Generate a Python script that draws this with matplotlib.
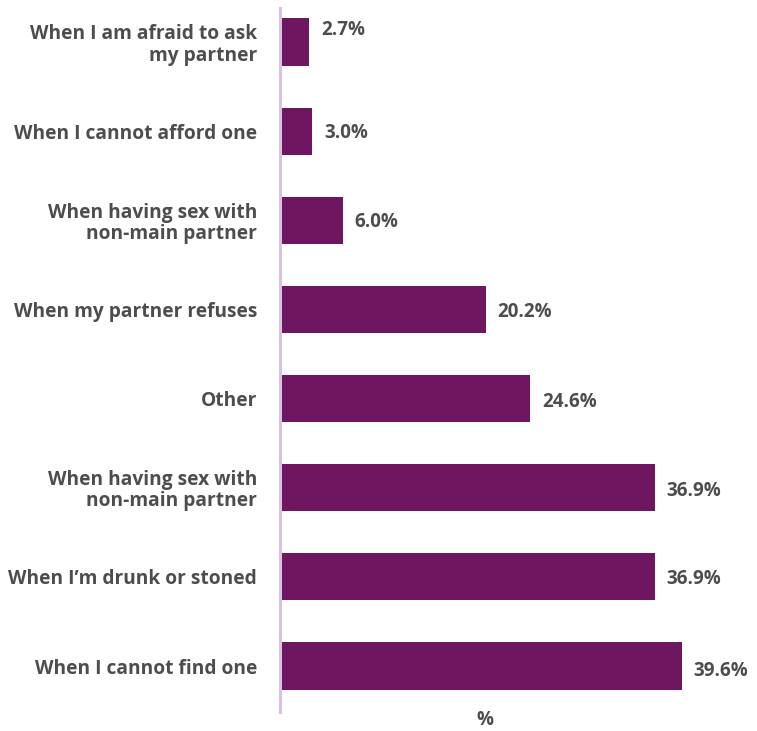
import matplotlib
matplotlib.use("Agg")
import matplotlib.pyplot as plt

categories = [
    "When I am afraid to ask\nmy partner",
    "When I cannot afford one",
    "When having sex with\nnon-main partner",
    "When my partner refuses",
    "Other",
    "When having sex with\nnon-main partner",
    "When I\u2019m drunk or stoned",
    "When I cannot find one",
]
values = [2.7, 3.0, 6.0, 20.2, 24.6, 36.9, 36.9, 39.6]
value_labels = ["2.7%", "3.0%", "6.0%", "20.2%", "24.6%", "36.9%", "36.9%", "39.6%"]

BAR = "#6f1660"
TXT = "#4d4d4d"
FONT = ["Open Sans", "DejaVu Sans"]

W, H = 757, 731
fig = plt.figure(figsize=(W / 100, H / 100), dpi=100)
ax_left, ax_right = 280, 690
ax_top, ax_bottom = 0, 712
ax = fig.add_axes([ax_left / W, 1 - ax_bottom / H, (ax_right - ax_left) / W, (ax_bottom - ax_top) / H])

pos = list(range(len(values)))
ax.barh(pos, values, height=0.53, color=BAR, left=0.2)
ax.set_xlim(0, 40.6)
ax.set_ylim(7.516, -0.471)

ax.set_yticks(pos)
ax.set_yticklabels(categories, fontsize=13.8, fontweight="bold", color=TXT,
                   family=FONT, linespacing=1.08)
ax.tick_params(axis="y", length=0, pad=16.5)
ax.set_xticks([])

for s in ["top", "right", "bottom"]:
    ax.spines[s].set_visible(False)
ax.spines["left"].set_color("#d6c3e3")
ax.spines["left"].set_linewidth(2.2)
ax.spines["left"].set_bounds(-0.38, 7.516)

offsets = [-0.13, 0.02, 0.02, 0.03, 0.04, 0.04, 0.02, 0.06]
for p, v, lab, o in zip(pos, values, value_labels, offsets):
    ax.text(v + 0.2 + 1.15, p + o, lab, va="center", ha="left", fontsize=13.5,
            fontweight="bold", color=TXT, family=FONT)

fig.text(485 / W, 1 - 720 / H, "%", ha="center", va="center", fontsize=13.5,
         fontweight="bold", color=TXT, family=FONT)

fig.savefig("out.png", dpi=100, facecolor="white")
